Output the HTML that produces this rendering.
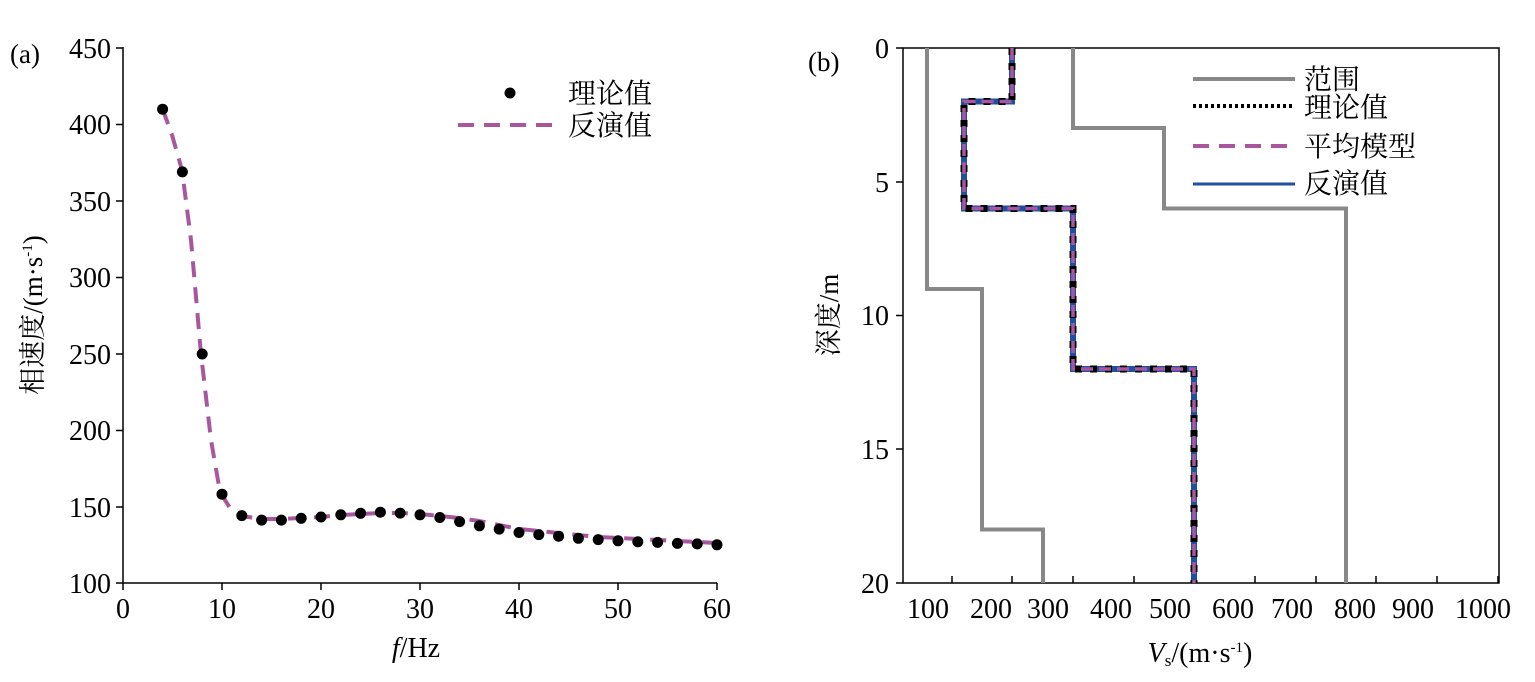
<!DOCTYPE html>
<html><head><meta charset="utf-8"><style>
body{margin:0;background:#fff}
svg text{font-family:"Liberation Serif","Noto Serif CJK SC","Noto Sans CJK SC",serif;fill:#000}
</style></head><body>
<svg width="1535" height="677" viewBox="0 0 1535 677" xmlns="http://www.w3.org/2000/svg">
<!-- Left panel -->
<text x="10" y="63" font-size="27">(a)</text>
<g stroke="#000" stroke-width="1.5" fill="none">
<line x1="123" y1="47" x2="123" y2="583"/>
<line x1="123" y1="583" x2="717" y2="583"/>
</g>
<g stroke="#000" stroke-width="1.5">
<line x1="116" y1="48" x2="123" y2="48"/><line x1="116" y1="124.5" x2="123" y2="124.5"/><line x1="116" y1="201" x2="123" y2="201"/><line x1="116" y1="277.5" x2="123" y2="277.5"/><line x1="116" y1="354" x2="123" y2="354"/><line x1="116" y1="430.5" x2="123" y2="430.5"/><line x1="116" y1="507" x2="123" y2="507"/><line x1="116" y1="583" x2="123" y2="583"/>
<line x1="123" y1="583" x2="123" y2="590"/><line x1="222" y1="583" x2="222" y2="590"/><line x1="321" y1="583" x2="321" y2="590"/><line x1="420" y1="583" x2="420" y2="590"/><line x1="519" y1="583" x2="519" y2="590"/><line x1="618" y1="583" x2="618" y2="590"/><line x1="717" y1="583" x2="717" y2="590"/>
</g>
<g font-size="28" text-anchor="end">
<text x="111" y="58">450</text><text x="111" y="134">400</text><text x="111" y="211">350</text><text x="111" y="287">300</text><text x="111" y="364">250</text><text x="111" y="440">200</text><text x="111" y="517">150</text><text x="111" y="593">100</text>
</g>
<g font-size="28" text-anchor="middle">
<text x="123" y="618">0</text><text x="222" y="618">10</text><text x="321" y="618">20</text><text x="420" y="618">30</text><text x="519" y="618">40</text><text x="618" y="618">50</text><text x="717" y="618">60</text>
<text x="416" y="657"><tspan font-style="italic">f</tspan>/Hz</text>
</g>
<text transform="translate(42,315) rotate(-90)" font-size="27" text-anchor="middle">相速度/(m·s<tspan font-size="15" dy="-10">-1</tspan><tspan dy="10">)</tspan></text>
<polyline fill="none" stroke="#a8579f" stroke-width="4" stroke-dasharray="16,10" points="162.6,109 172,135 182,170 191,240 201,354 211,440 220,492 230,508 242,516 261,519 281,519 301,518 321,517 341,515 360,514 380,513 400,513 420,514 440,516 459,518 479,521 499,525 519,529 539,531 558,533 578,535 598,537 618,538 638,539 658,540 677,541 697,542 717,543"/>
<g fill="#000">
<circle cx="162.6" cy="109.2" r="5.5"/><circle cx="182.4" cy="171.9" r="5.5"/><circle cx="202.2" cy="354" r="5.5"/><circle cx="222" cy="494.2" r="5.5"/><circle cx="241.8" cy="515.6" r="5.5"/><circle cx="261.6" cy="520.1" r="5.5"/><circle cx="281.4" cy="520.1" r="5.5"/><circle cx="301.2" cy="518.3" r="5.5"/><circle cx="321" cy="517" r="5.5"/><circle cx="340.8" cy="514.8" r="5.5"/><circle cx="360.6" cy="513.3" r="5.5"/><circle cx="380.4" cy="512.2" r="5.5"/><circle cx="400.2" cy="513.1" r="5.5"/><circle cx="420" cy="514.8" r="5.5"/><circle cx="439.8" cy="517.5" r="5.5"/><circle cx="459.6" cy="521.6" r="5.5"/><circle cx="479.4" cy="525.8" r="5.5"/><circle cx="499.2" cy="529.1" r="5.5"/><circle cx="519" cy="532.5" r="5.5"/><circle cx="538.8" cy="534.6" r="5.5"/><circle cx="558.6" cy="536.2" r="5.5"/><circle cx="578.4" cy="538.3" r="5.5"/><circle cx="598.2" cy="539.6" r="5.5"/><circle cx="618" cy="540.8" r="5.5"/><circle cx="637.8" cy="541.8" r="5.5"/><circle cx="657.6" cy="542.4" r="5.5"/><circle cx="677.4" cy="543.4" r="5.5"/><circle cx="697.2" cy="543.9" r="5.5"/><circle cx="717" cy="544.8" r="5.5"/>
</g>
<circle cx="510" cy="93" r="5.5" fill="#000"/>
<text x="568" y="103" font-size="28">理论值</text>
<line x1="458" y1="125" x2="562" y2="125" stroke="#a8579f" stroke-width="4" stroke-dasharray="16,10"/>
<text x="568" y="135" font-size="28">反演值</text>

<!-- Right panel -->
<text x="808" y="71" font-size="27">(b)</text>
<rect x="903" y="48" width="596" height="535" fill="none" stroke="#000" stroke-width="1.5"/>
<g stroke="#000" stroke-width="1.5">
<line x1="896" y1="48" x2="903" y2="48"/><line x1="896" y1="182" x2="903" y2="182"/><line x1="896" y1="315.5" x2="903" y2="315.5"/><line x1="896" y1="449" x2="903" y2="449"/><line x1="896" y1="583" x2="903" y2="583"/>
<line x1="952" y1="583" x2="952" y2="576"/><line x1="1012" y1="583" x2="1012" y2="576"/><line x1="1073" y1="583" x2="1073" y2="576"/><line x1="1134" y1="583" x2="1134" y2="576"/><line x1="1194" y1="583" x2="1194" y2="576"/><line x1="1255" y1="583" x2="1255" y2="576"/><line x1="1316" y1="583" x2="1316" y2="576"/><line x1="1376" y1="583" x2="1376" y2="576"/><line x1="1437" y1="583" x2="1437" y2="576"/><line x1="1498" y1="583" x2="1498" y2="576"/>
</g>
<g font-size="28" text-anchor="end">
<text x="889" y="58">0</text><text x="889" y="192">5</text><text x="889" y="325">10</text><text x="889" y="459">15</text><text x="889" y="593">20</text>
</g>
<g font-size="28" text-anchor="middle">
<text x="928" y="618">100</text><text x="991" y="618">200</text><text x="1048" y="618">300</text><text x="1111" y="618">400</text><text x="1170" y="618">500</text><text x="1233" y="618">600</text><text x="1292" y="618">700</text><text x="1355" y="618">800</text><text x="1413" y="618">900</text><text x="1483" y="618">1000</text>
<text x="1200" y="662"><tspan font-style="italic">V</tspan><tspan font-size="17" dy="4">s</tspan><tspan dy="-4">/(m·s</tspan><tspan font-size="15" dy="-10">-1</tspan><tspan dy="10">)</tspan></text>
</g>
<text transform="translate(838,315) rotate(-90)" font-size="27" text-anchor="middle">深度/m</text>
<g fill="none" stroke="#888" stroke-width="4">
<polyline points="927,48 927,289 982,289 982,529.5 1043,529.5 1043,583"/>
<polyline points="1073,48 1073,128 1164,128 1164,208.5 1346,208.5 1346,583"/>
</g>
<polyline fill="none" stroke="#1f4fa0" stroke-width="6" points="1012,48 1012,101.5 964,101.5 964,208.5 1073,208.5 1073,369 1194,369 1194,583"/>
<polyline fill="none" stroke="#000" stroke-width="7" stroke-dasharray="7,8" points="1012,48 1012,101.5 964,101.5 964,208.5 1073,208.5 1073,369 1194,369 1194,583"/>
<polyline fill="none" stroke="#a8579f" stroke-width="3.5" stroke-dasharray="12,6" points="1012,48 1012,101.5 964,101.5 964,208.5 1073,208.5 1073,369 1194,369 1194,583"/>
<line x1="1193" y1="79" x2="1295" y2="79" stroke="#888" stroke-width="4"/>
<line x1="1193" y1="106" x2="1295" y2="106" stroke="#000" stroke-width="4" stroke-dasharray="3,3"/>
<line x1="1193" y1="146" x2="1295" y2="146" stroke="#a8579f" stroke-width="4" stroke-dasharray="16,10"/>
<line x1="1193" y1="184" x2="1295" y2="184" stroke="#1f4fa0" stroke-width="3"/>
<g font-size="28">
<text x="1304" y="89">范围</text><text x="1304" y="117">理论值</text><text x="1304" y="156">平均模型</text><text x="1304" y="193">反演值</text>
</g>
</svg>
</body></html>
